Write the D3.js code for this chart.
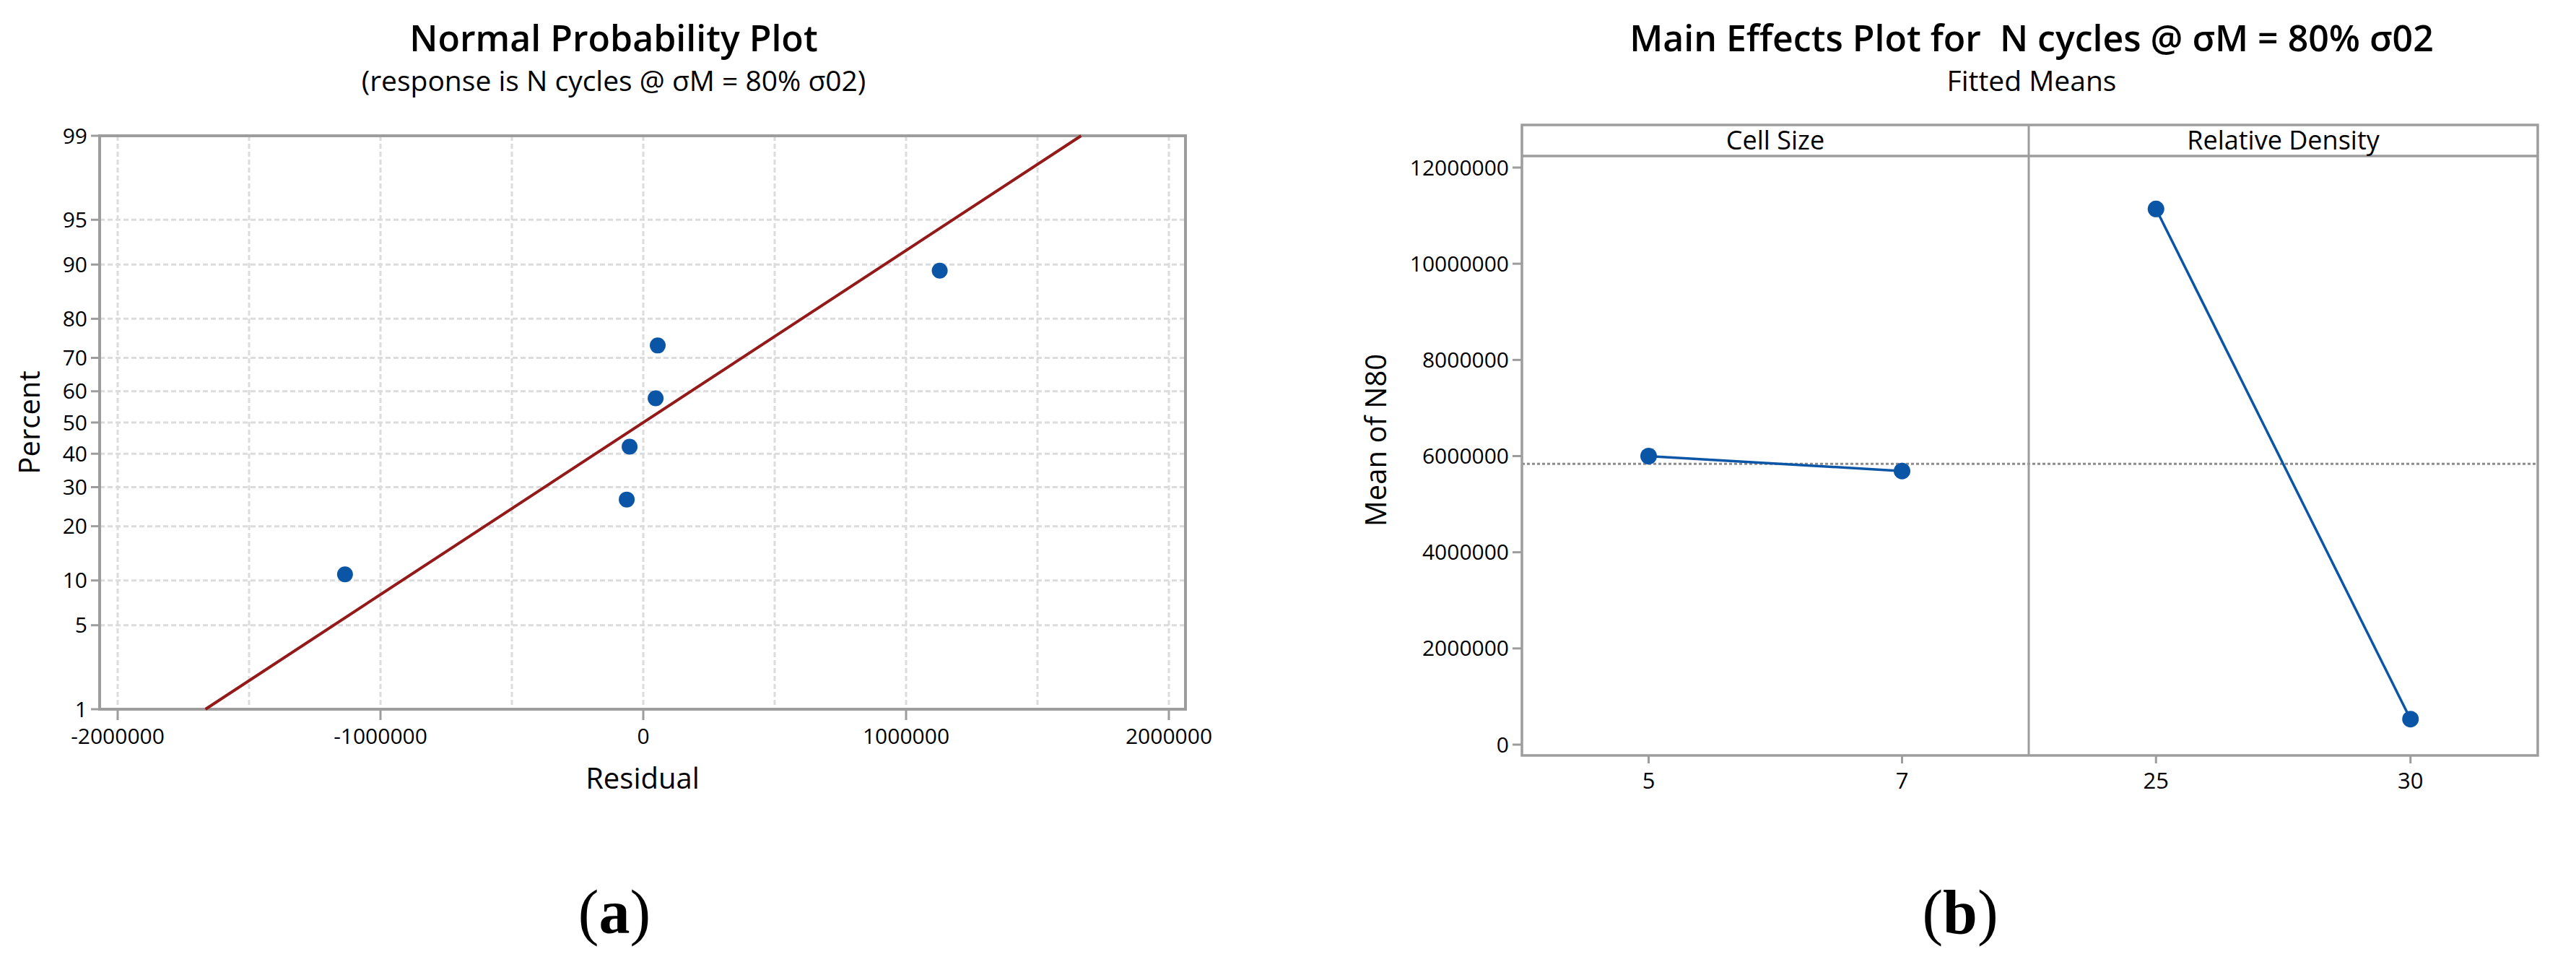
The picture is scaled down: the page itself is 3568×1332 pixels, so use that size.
<!doctype html>
<html lang="en">
  <head>
    <meta charset="utf-8">
    <title>Normal Probability Plot and Main Effects Plot</title>
    <script src="https://d3js.org/d3.v7.min.js"></script>
    <style>
      body { margin: 0; background: #fff; }
      svg text { font-family: "Open Sans", "Noto Sans", sans-serif; fill: #000; }
    </style>
  </head>
  <body>
    <div id="chart"></div>
    <script type="text/javascript">
    // ---- data: (a) normal probability plot of residuals
    const residuals = [-1135000, -63000, -52000, 47000, 55000, 1128000];
    const percents = [10.9, 26.6, 42.2, 57.8, 73.4, 89.1];
    const fitResid = [-1666000, 1666000];   // fitted line at 1% and 99%
    const fitPct = [1, 99];
    const pctTicks = [1, 5, 10, 20, 30, 40, 50, 60, 70, 80, 90, 95, 99];
    const residTicks = [-2000000, -1000000, 0, 1000000, 2000000];
    const residGrid = [-2000000, -1500000, -1000000, -500000, 0, 500000, 1000000, 1500000, 2000000];

    // ---- data: (b) main effects plot
    const cellLevels = ["5", "7"];
    const cellMeans = [6000000, 5690000];
    const densityLevels = ["25", "30"];
    const densityMeans = [11140000, 530000];
    const grandMean = 5840000;
    const meanTicks = [0, 2000000, 4000000, 6000000, 8000000, 10000000, 12000000];

    const W = 3568, H = 1332;
    const gray = "#9d9d9d", grid = "#dcdcdc", blue = "#0b55a6", red = "#941a1a";

    const svg = d3.select("#chart")
        .append("svg")
        .attr("width", W)
        .attr("height", H);

    // inverse normal cdf (Acklam)
    function probit(p) {
        const a = [-3.969683028665376e+01, 2.209460984245205e+02, -2.759285104469687e+02, 1.383577518672690e+02, -3.066479806614716e+01, 2.506628277459239e+00];
        const b = [-5.447609879822406e+01, 1.615858368580409e+02, -1.556989798598866e+02, 6.680131188771972e+01, -1.328068155288572e+01];
        const c = [-7.784894002430293e-03, -3.223964580411365e-01, -2.400758277161838e+00, -2.549671850386149e+00, 4.374664141464968e+00, 2.938163982698783e+00];
        const d = [7.784695709041462e-03, 3.224671290700398e-01, 2.445134137142996e+00, 3.754408661907416e+00];
        const pl = 0.02425;
        if (p < pl) {
            const q = Math.sqrt(-2 * Math.log(p));
            return (((((c[0]*q+c[1])*q+c[2])*q+c[3])*q+c[4])*q+c[5]) / ((((d[0]*q+d[1])*q+d[2])*q+d[3])*q+1);
        }
        if (p <= 1 - pl) {
            const q = p - 0.5, r = q * q;
            return (((((a[0]*r+a[1])*r+a[2])*r+a[3])*r+a[4])*r+a[5])*q / (((((b[0]*r+b[1])*r+b[2])*r+b[3])*r+b[4])*r+1);
        }
        const q = Math.sqrt(-2 * Math.log(1 - p));
        return -(((((c[0]*q+c[1])*q+c[2])*q+c[3])*q+c[4])*q+c[5]) / ((((d[0]*q+d[1])*q+d[2])*q+d[3])*q+1);
    }

    // ================= (a) =================
    const A = {left: 138, right: 1642, top: 188, bottom: 982};
    const x = d3.scaleLinear().domain([-2000000, 2000000]).range([163, 1619]);
    const z = d3.scaleLinear().domain([probit(0.01), probit(0.99)]).range([A.bottom, A.top]);
    const y = v => z(probit(v / 100));

    const gA = svg.append("g");

    gA.append("text")
        .attr("x", 850).attr("y", 71)
        .attr("text-anchor", "middle")
        .style("font-size", "50px").style("font-weight", 600)
        .text("Normal Probability Plot");
    gA.append("text")
        .attr("x", 850).attr("y", 126)
        .attr("text-anchor", "middle")
        .style("font-size", "39px")
        .text("(response is N cycles @ σM = 80% σ02)");

    // grid
    gA.append("g").selectAll("line")
        .data(pctTicks.slice(1, -1))
        .join("line")
        .attr("x1", A.left).attr("x2", A.right)
        .attr("y1", d => y(d)).attr("y2", d => y(d))
        .attr("stroke", grid).attr("stroke-width", 3).attr("stroke-dasharray", "7,4");
    gA.append("g").selectAll("line")
        .data(residGrid)
        .join("line")
        .attr("x1", d => x(d)).attr("x2", d => x(d))
        .attr("y1", A.top).attr("y2", A.bottom)
        .attr("stroke", grid).attr("stroke-width", 3).attr("stroke-dasharray", "7,4");

    // frame
    gA.append("rect")
        .attr("x", A.left).attr("y", A.top)
        .attr("width", A.right - A.left).attr("height", A.bottom - A.top)
        .attr("fill", "none").attr("stroke", gray).attr("stroke-width", 4);

    // y axis
    const yAxA = gA.append("g").selectAll("g")
        .data(pctTicks)
        .join("g")
        .attr("transform", d => `translate(0,${y(d)})`);
    yAxA.append("line")
        .attr("x1", A.left - 12).attr("x2", A.left)
        .attr("stroke", gray).attr("stroke-width", 3);
    yAxA.append("text")
        .attr("x", A.left - 17).attr("dy", "0.35em")
        .attr("text-anchor", "end")
        .style("font-size", "30px")
        .text(d => d);

    // x axis
    const xAxA = gA.append("g").selectAll("g")
        .data(residTicks)
        .join("g")
        .attr("transform", d => `translate(${x(d)},0)`);
    xAxA.append("line")
        .attr("y1", A.bottom).attr("y2", A.bottom + 15)
        .attr("stroke", gray).attr("stroke-width", 3);
    xAxA.append("text")
        .attr("y", 1030)
        .attr("text-anchor", "middle")
        .style("font-size", "30px")
        .text(d => d);

    gA.append("text")
        .attr("x", 890).attr("y", 1092)
        .attr("text-anchor", "middle")
        .style("font-size", "40px")
        .text("Residual");
    gA.append("text")
        .attr("transform", `translate(55,${(A.top + A.bottom) / 2}) rotate(-90)`)
        .attr("text-anchor", "middle")
        .style("font-size", "40px")
        .text("Percent");

    // fitted line
    gA.append("path")
        .datum(fitResid.map((r, i) => [r, fitPct[i]]))
        .attr("d", d3.line().x(d => x(d[0])).y(d => y(d[1])))
        .attr("fill", "none").attr("stroke", red).attr("stroke-width", 4);

    // points
    gA.append("g").selectAll("circle")
        .data(residuals.map((r, i) => [r, percents[i]]))
        .join("circle")
        .attr("cx", d => x(d[0])).attr("cy", d => y(d[1]))
        .attr("r", 11)
        .attr("fill", blue);

    gA.append("text")
        .attr("x", 851).attr("y", 1292)
        .attr("text-anchor", "middle")
        .style("font-family", "'Liberation Serif', serif")
        .style("font-size", "86px")
        .html("(<tspan font-weight='bold'>a</tspan>)");

    // ================= (b) =================
    const B = {left: 2108, mid: 2810, right: 3515, top: 173, strip: 216, bottom: 1046};
    const yB = d3.scaleLinear().domain([0, 12000000]).range([1031, 232]);
    const xCell = d3.scalePoint().domain(cellLevels).range([B.left, B.mid]).padding(0.5);
    const xDens = d3.scalePoint().domain(densityLevels).range([B.mid, B.right]).padding(0.5);

    const gB = svg.append("g");

    gB.append("text")
        .attr("x", 2814).attr("y", 71)
        .attr("text-anchor", "middle")
        .style("font-size", "50px").style("font-weight", 600)
        .style("white-space", "pre")
        .text("Main Effects Plot for  N cycles @ σM = 80% σ02");
    gB.append("text")
        .attr("x", 2814).attr("y", 126)
        .attr("text-anchor", "middle")
        .style("font-size", "39px")
        .text("Fitted Means");

    // grand mean reference line
    gB.append("line")
        .attr("x1", B.left).attr("x2", B.right)
        .attr("y1", yB(grandMean)).attr("y2", yB(grandMean))
        .attr("stroke", "#8c8c8c").attr("stroke-width", 3).attr("stroke-dasharray", "4,3");

    // frame, strip and divider
    gB.append("rect")
        .attr("x", B.left).attr("y", B.top)
        .attr("width", B.right - B.left).attr("height", B.bottom - B.top)
        .attr("fill", "none").attr("stroke", gray).attr("stroke-width", 3.5);
    gB.append("line")
        .attr("x1", B.left).attr("x2", B.right)
        .attr("y1", B.strip).attr("y2", B.strip)
        .attr("stroke", gray).attr("stroke-width", 3.5);
    gB.append("line")
        .attr("x1", B.mid).attr("x2", B.mid)
        .attr("y1", B.top).attr("y2", B.bottom)
        .attr("stroke", gray).attr("stroke-width", 3);

    gB.append("text")
        .attr("x", (B.left + B.mid) / 2).attr("y", 207)
        .attr("text-anchor", "middle")
        .style("font-size", "36px")
        .text("Cell Size");
    gB.append("text")
        .attr("x", (B.mid + B.right) / 2).attr("y", 207)
        .attr("text-anchor", "middle")
        .style("font-size", "36px")
        .text("Relative Density");

    // y axis
    const yAxB = gB.append("g").selectAll("g")
        .data(meanTicks)
        .join("g")
        .attr("transform", d => `translate(0,${yB(d)})`);
    yAxB.append("line")
        .attr("x1", B.left - 13).attr("x2", B.left)
        .attr("stroke", gray).attr("stroke-width", 3);
    yAxB.append("text")
        .attr("x", B.left - 18).attr("dy", "0.35em")
        .attr("text-anchor", "end")
        .style("font-size", "30px")
        .text(d => d);

    gB.append("text")
        .attr("transform", `translate(1920,${(B.top + B.bottom) / 2}) rotate(-90)`)
        .attr("text-anchor", "middle")
        .style("font-size", "40px")
        .text("Mean of N80");

    // x axes per panel
    [[xCell, cellLevels], [xDens, densityLevels]].forEach(([sc, lv]) => {
        const t = gB.append("g").selectAll("g")
            .data(lv)
            .join("g")
            .attr("transform", d => `translate(${sc(d)},0)`);
        t.append("line")
            .attr("y1", B.bottom).attr("y2", B.bottom + 11)
            .attr("stroke", gray).attr("stroke-width", 3);
        t.append("text")
            .attr("y", 1092)
            .attr("text-anchor", "middle")
            .style("font-size", "31px")
            .text(d => d);
    });

    // effect lines and points
    [[xCell, cellLevels, cellMeans], [xDens, densityLevels, densityMeans]].forEach(([sc, lv, vals]) => {
        const pts = lv.map((l, i) => [sc(l), yB(vals[i])]);
        gB.append("path")
            .datum(pts)
            .attr("d", d3.line())
            .attr("fill", "none").attr("stroke", blue).attr("stroke-width", 3.5);
        gB.append("g").selectAll("circle")
            .data(pts)
            .join("circle")
            .attr("cx", d => d[0]).attr("cy", d => d[1])
            .attr("r", 11.5)
            .attr("fill", blue);
    });

    gB.append("text")
        .attr("x", 2715).attr("y", 1292)
        .attr("text-anchor", "middle")
        .style("font-family", "'Liberation Serif', serif")
        .style("font-size", "86px")
        .html("(<tspan font-weight='bold'>b</tspan>)");
    </script>
  </body>
</html>
